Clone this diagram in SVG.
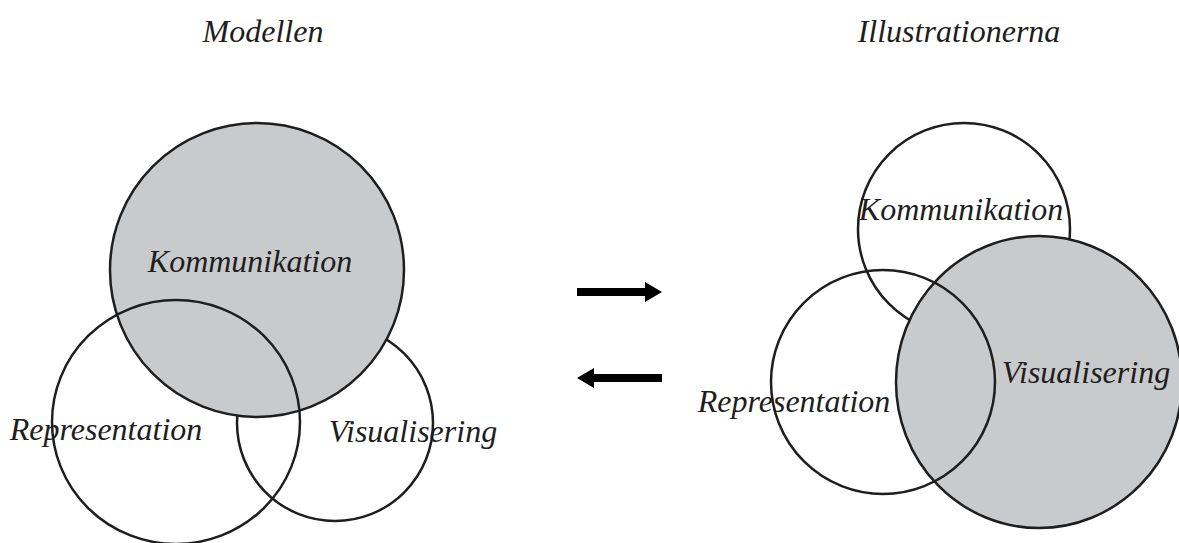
<svg xmlns="http://www.w3.org/2000/svg" width="1179" height="543" viewBox="0 0 1179 543">
<style>
.c{stroke:#1e1e1e;stroke-width:2.5;}
.w{fill:#ffffff;}
.n{fill:none;}
.g{fill:#c9cacc;}
.t{font-family:"Liberation Serif","Times New Roman",serif;font-style:italic;font-size:32px;fill:#1e1e1e;}
.a{fill:#000000;}
</style>
<rect width="1179" height="543" fill="#ffffff"/>
<text class="t" x="263" y="42" text-anchor="middle">Modellen</text>
<text class="t" x="959" y="42" text-anchor="middle">Illustrationerna</text>
<g id="left-visualisering">
<circle class="c w" cx="335" cy="423" r="98"/>
</g>
<g id="left-kommunikation">
<circle class="c g" cx="257" cy="270" r="147"/>
</g>
<g id="left-representation">
<ellipse class="c n" cx="176" cy="422" rx="124" ry="122"/>
</g>
<text class="t" x="250" y="272" text-anchor="middle">Kommunikation</text>
<text class="t" x="106" y="440" text-anchor="middle">Representation</text>
<text class="t" x="413" y="442" text-anchor="middle">Visualisering</text>
<g id="right-kommunikation">
<circle class="c w" cx="964" cy="229" r="106"/>
</g>
<g id="right-visualisering">
<ellipse class="c g" cx="1039" cy="382" rx="143" ry="146"/>
</g>
<g id="right-representation">
<circle class="c n" cx="883" cy="382" r="112"/>
</g>
<text class="t" x="961" y="220" text-anchor="middle">Kommunikation</text>
<text class="t" x="1086" y="383" text-anchor="middle">Visualisering</text>
<text class="t" x="794" y="412" text-anchor="middle">Representation</text>
<g id="connectors">
<path class="a" d="M577,288 L645,288 L645,282 L662,292 L645,302 L645,296 L577,296 Z"/>
<path class="a" d="M662,374 L594,374 L594,368 L577,378 L594,388 L594,382 L662,382 Z"/>
</g>
</svg>
